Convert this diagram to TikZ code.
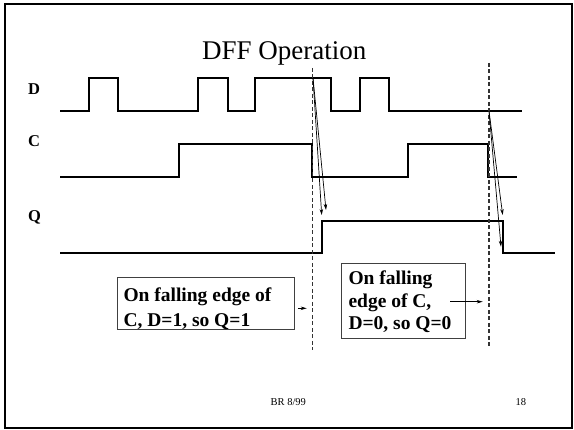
\documentclass[tikz,border=0pt]{standalone}
\usepackage{fontspec}
\setmainfont{Liberation Serif}
\usetikzlibrary{arrows.meta,positioning}

\begin{document}
\begin{tikzpicture}[x=1pt,y=-1pt,
  signal/.style={line width=1.8pt},
  cut/.style={dash pattern=on 4pt off 2.5pt, line width=1.5pt, black!80},
  arr/.style={-{Stealth[length=6pt,width=3.5pt]}, line width=0.7pt},
  notebox/.style={draw=black!75, line width=1pt, inner sep=0pt},
  notetext/.style={inner sep=0pt, align=left, font=\fontsize{19.5}{24.5}\selectfont\bfseries},
  sig/.style={inner sep=0pt, anchor=base west, font=\fontsize{16.5}{18}\selectfont\bfseries}]

\useasboundingbox (0,0) rectangle (574,430);
\draw[line width=2pt] (4.5,4) rectangle (572,428);

\node[inner sep=0pt, anchor=base, font=\fontsize{27}{32}\selectfont] (title) at (284.2,59.3) {DFF Operation};

% signal names
\node[sig] (D) at (28,95) {D};
\node[sig] (C) at (28,146.7) {C};
\node[sig] (Q) at (28,221.7) {Q};

% waveforms
\draw[signal] (60,110.7) -- (88.7,110.7) -- (88.7,77.7) -- (117.7,77.7) -- (117.7,110.7)
  -- (198.3,110.7) -- (198.3,77.7) -- (227.7,77.7) -- (227.7,110.7) -- (255.3,110.7)
  -- (255.3,77.7) -- (331,77.7) -- (331,110.7) -- (360,110.7) -- (360,77.7)
  -- (389.3,77.7) -- (389.3,110.7) -- (521.7,110.7);
\draw[signal] (60,177.3) -- (179.3,177.3) -- (179.3,144.3) -- (312.3,144.3) -- (312.3,177.3)
  -- (407.7,177.3) -- (407.7,144.3) -- (488.3,144.3) -- (488.3,177.3) -- (516.7,177.3);
\draw[signal] (60,253.3) -- (321.7,253.3) -- (321.7,220.7) -- (502.7,220.7) -- (502.7,253.3)
  -- (555.3,253.3);

% falling edges of C
\coordinate (cut1top) at (312.7,68);
\coordinate (cut1bot) at (312.7,350);
\coordinate (cut2top) at (489,63);
\coordinate (cut2bot) at (489,346);
\draw[cut] (cut1top) -- (cut1bot);
\draw[cut] (cut2top) -- (cut2bot);

\coordinate (d1) at (313,78);
\coordinate (q1a) at (321.7,215);
\coordinate (q1b) at (326,210);
\path[draw] [arr] (d1) -- (q1a);
\path[draw] [arr] (d1) -- (q1b);

\coordinate (d2) at (489,111);
\coordinate (q2a) at (502.7,215);
\coordinate (q2b) at (501,246.7);
\path[draw] [arr] (d2) -- (q2a);
\path[draw] [arr] (d2) -- (q2b);

% notes
\node[notebox, minimum width=177, minimum height=52.7] (box1) at (205.8,303.65) {};
\node[notetext, anchor=base west] (box1txt) at (123.3,326.2) {On falling edge of\\C, D=1, so Q=1};
\coordinate (p1) at (298.3,308.3);
\coordinate (p1end) at (306.7,308.3);
\path[draw] [arr] (p1) -- (p1end);

\node[notebox, minimum width=124, minimum height=75] (box2) at (403,300.8) {};
\node[notetext, anchor=base west, font=\fontsize{19.5}{22.5}\selectfont\bfseries] (box2txt) at (348.3,330) {On falling\\edge of C,\\D=0, so Q=0};
\coordinate (p2) at (450,301.7);
\coordinate (p2end) at (482.7,301.7);
\path[draw] [arr] (p2) -- (p2end);

% footer
\node[inner sep=0pt, anchor=base, font=\fontsize{10.5}{12}\selectfont] (foot) at (288.3,406) {BR 8/99};
\node[inner sep=0pt, anchor=base, font=\fontsize{10.5}{12}\selectfont] (page) at (520.8,406) {18};

\end{tikzpicture}
\end{document}
